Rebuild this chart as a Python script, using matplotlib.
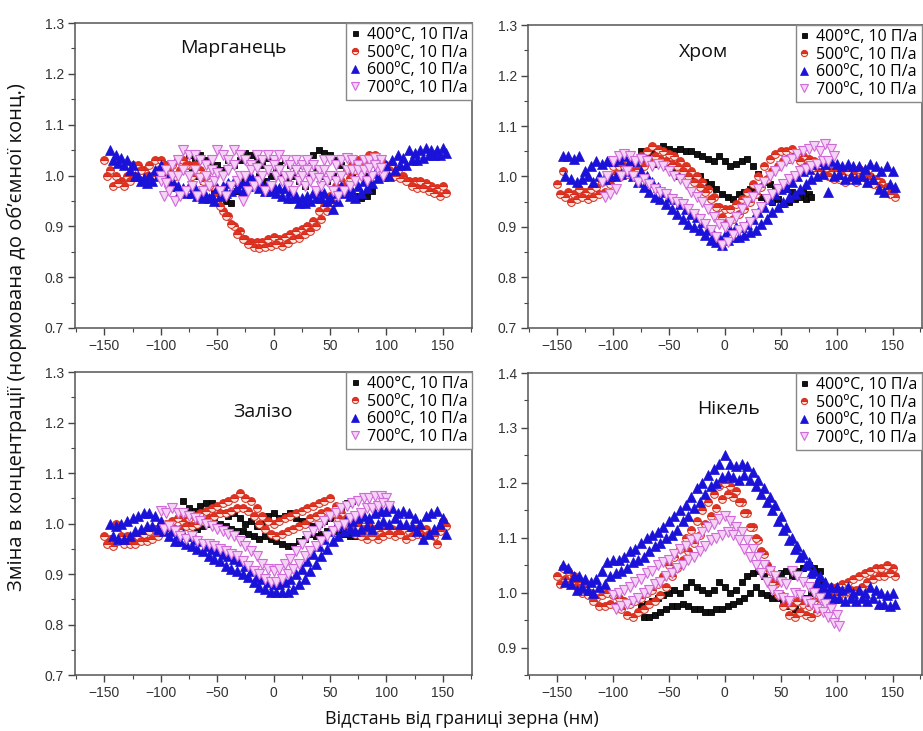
import numpy as np
import matplotlib
matplotlib.use("Agg")
import matplotlib.pyplot as plt
from matplotlib.ticker import MultipleLocator

# ---------------- data ----------------
series_labels = ["400°C, 10 П/а", "500ºC, 10 П/а", "600ºC, 10 П/а", "700ºC, 10 П/а"]
panel_titles = ["Марганець", "Хром", "Залізо", "Нікель"]
x_ticks = [-150, -100, -50, 0, 50, 100, 150]

# sampling ranges (start, stop) in nm for each series, step 5 nm
rng_mn = {"400": (-75, 85), "500": (-150, 150), "600": (-145, 150), "700": (-100, 95)}
rng_cr = {"400": (-75, 75), "500": (-150, 150), "600": (-145, 150), "700": (-110, 95)}
rng_fe = {"400": (-80, 70), "500": (-150, 150), "600": (-145, 150), "700": (-100, 100)}
rng_ni = {"400": (-75, 85), "500": (-150, 150), "600": (-145, 150), "700": (-100, 100)}

# ---- Марганець ----
mn400_a = [1.04, 1.035, 1.04, 1.03, 1.02, 1.02, 1.01, 1.03, 1.02, 1.03, 1.045, 1.04, 1.03, 1.02, 1.035, 1.03, 1.02,
           1.03, 1.02, 1.01, 1.02, 1.03, 1.04, 1.05, 1.045, 1.04, 1.03, 1.02, 1.01, 1.0, 1.01, 1.0, 0.99]
mn400_b = [1.01, 1.0, 0.99, 0.98, 0.97, 0.96, 0.95, 0.945, 0.97, 0.99, 1.0, 0.99, 1.0, 0.99, 1.0, 1.01, 1.0,
           0.99, 1.0, 0.99, 0.98, 1.0, 1.01, 1.0, 0.99, 1.0, 0.99, 0.98, 0.97, 0.96, 0.955, 0.96, 0.97]
mn500_a = [1.03, 1.01, 1.0, 0.99, 1.0, 1.02, 1.02, 1.01, 1.02, 1.03, 1.03, 1.02, 1.02, 1.03, 1.03, 1.02, 1.02,
           1.01, 1.0, 0.98, 0.95, 0.93, 0.92, 0.90, 0.89, 0.875, 0.87, 0.87, 0.87, 0.875, 0.88, 0.875, 0.88,
           0.885, 0.89, 0.895, 0.90, 0.91, 0.93, 0.94, 0.96, 0.98, 0.99, 1.01, 1.02, 1.03, 1.03, 1.04, 1.04,
           1.03, 1.02, 1.02, 1.01, 1.0, 0.99, 0.99, 0.99, 0.985, 0.98, 0.975, 0.98]
mn500_b = [1.0, 0.98, 0.985, 0.98, 0.99, 1.0, 1.01, 1.0, 1.0, 1.01, 1.02, 1.01, 1.0, 1.01, 1.02, 1.0, 1.01,
           0.99, 0.98, 0.96, 0.94, 0.92, 0.905, 0.885, 0.875, 0.865, 0.86, 0.858, 0.86, 0.862, 0.865, 0.862,
           0.868, 0.875, 0.878, 0.885, 0.89, 0.90, 0.915, 0.93, 0.945, 0.965, 0.98, 0.995, 1.01, 1.015, 1.02,
           1.025, 1.03, 1.02, 1.01, 1.0, 0.995, 0.99, 0.98, 0.975, 0.975, 0.97, 0.965, 0.96, 0.965]
mn600_a = [1.05, 1.04, 1.035, 1.03, 1.02, 1.0, 0.995, 1.0, 1.01, 1.02, 1.0, 0.99, 0.98, 0.975, 0.98, 0.975,
           0.965, 0.96, 0.96, 0.975, 0.98, 0.985, 0.99, 0.985, 0.99, 1.0, 0.99, 0.98, 0.985, 0.98, 0.975, 0.975,
           0.97, 0.96, 0.955, 0.96, 0.965, 0.97, 0.965, 0.955, 0.965, 0.98, 0.975, 0.97, 0.98, 0.99, 1.0, 1.005,
           1.01, 1.02, 1.03, 1.04, 1.035, 1.05, 1.045, 1.05, 1.055, 1.05, 1.05, 1.055]
mn600_b = [1.03, 1.025, 1.02, 1.01, 1.0, 0.99, 0.985, 0.99, 1.0, 1.0, 0.99, 0.98, 0.97, 0.965, 0.965, 0.96,
           0.955, 0.955, 0.95, 0.96, 0.965, 0.97, 0.975, 0.97, 0.98, 0.985, 0.975, 0.97, 0.97, 0.965, 0.96,
           0.955, 0.955, 0.945, 0.945, 0.95, 0.955, 0.955, 0.95, 0.935, 0.95, 0.965, 0.96, 0.955, 0.965, 0.975,
           0.985, 0.995, 1.0, 1.0, 1.01, 1.02, 1.02, 1.03, 1.03, 1.035, 1.04, 1.04, 1.04, 1.045]
mn700_a = [1.0, 1.01, 1.02, 1.03, 1.05, 1.04, 1.04, 1.03, 1.02, 1.03, 1.05, 1.04, 1.03, 1.05, 1.04, 1.03, 1.02,
           1.04, 1.03, 1.04, 1.03, 1.04, 1.03, 1.02, 1.03, 1.02, 1.03, 1.02, 1.01, 1.03, 1.03, 1.02, 1.03, 1.035,
           1.03, 1.02, 1.03, 1.03, 1.035, 1.03]
mn700_b = [0.96, 0.97, 0.95, 0.96, 0.97, 0.98, 0.96, 0.97, 0.98, 0.99, 0.97, 0.96, 0.98, 0.99, 0.95, 0.97, 0.98,
           0.99, 0.97, 0.98, 1.0, 0.99, 0.98, 0.97, 0.99, 0.98, 0.99, 0.97, 0.98, 0.99, 0.97, 0.96, 0.97, 0.98,
           0.99, 1.0, 0.99, 1.0, 1.01, 1.0]
mn700_c = [0.99, 0.985, 1.0, 1.0, 1.01, 1.0, 1.01, 0.995, 1.0, 1.01, 1.005, 1.0, 1.01, 1.02, 1.0, 1.0, 1.01,
           1.015, 1.0, 1.01, 1.02, 1.01, 1.0, 1.0, 1.01, 1.0, 1.01, 1.0, 0.995, 1.01, 1.0, 0.99, 1.0, 1.01,
           1.01, 1.01, 1.01, 1.015, 1.02, 1.015]

# ---- Хром ----
cr400_a = [1.05, 1.045, 1.05, 1.055, 1.06, 1.055, 1.05, 1.055, 1.05, 1.05, 1.045, 1.04, 1.035, 1.03, 1.04, 1.03,
           1.02, 1.025, 1.03, 1.035, 1.02, 1.005, 0.99, 0.985, 0.98, 0.975, 0.975, 0.97, 0.965, 0.97, 0.965]
cr400_b = [1.035, 1.03, 1.025, 1.03, 1.02, 1.01, 1.0, 1.01, 1.0, 0.995, 1.0, 0.99, 0.985, 0.975, 0.965, 0.96,
           0.955, 0.965, 0.97, 0.975, 0.97, 0.96, 0.955, 0.95, 0.955, 0.945, 0.95, 0.955, 0.96, 0.955, 0.96]
cr500_a = [0.985, 1.01, 0.97, 0.965, 0.975, 0.97, 0.975, 0.98, 0.99, 1.0, 1.02, 1.02, 1.02, 1.025, 1.03, 1.04,
           1.05, 1.06, 1.055, 1.05, 1.045, 1.04, 1.03, 1.02, 1.01, 1.0, 0.99, 0.975, 0.96, 0.94, 0.935, 0.935,
           0.945, 0.955, 0.97, 0.985, 1.0, 1.02, 1.035, 1.045, 1.05, 1.05, 1.055, 1.045, 1.04, 1.035, 1.03,
           1.02, 1.015, 1.01, 1.01, 1.005, 1.01, 1.005, 1.015, 1.01, 1.0, 0.995, 0.99, 0.98, 0.97]
cr500_b = [0.965, 0.96, 0.95, 0.955, 0.96, 0.955, 0.96, 0.965, 0.97, 0.985, 1.005, 1.0, 1.005, 1.01, 1.015,
           1.02, 1.03, 1.04, 1.035, 1.03, 1.025, 1.02, 1.01, 1.0, 0.99, 0.98, 0.97, 0.955, 0.94, 0.92, 0.91,
           0.915, 0.925, 0.935, 0.95, 0.965, 0.98, 0.995, 1.01, 1.02, 1.03, 1.035, 1.04, 1.03, 1.02, 1.015,
           1.01, 1.005, 1.0, 0.995, 0.995, 0.99, 0.995, 0.99, 1.0, 0.995, 0.985, 0.98, 0.975, 0.965, 0.96]
cr600_a = [1.04, 1.04, 1.035, 1.04, 1.01, 1.02, 1.03, 1.025, 1.03, 1.03, 1.035, 1.04, 1.03, 1.03, 1.01, 1.0,
           0.99, 0.98, 0.97, 0.96, 0.955, 0.945, 0.935, 0.925, 0.92, 0.91, 0.895, 0.885, 0.88, 0.885, 0.895,
           0.9, 0.9, 0.905, 0.915, 0.93, 0.94, 0.955, 0.965, 0.975, 0.98, 0.99, 1.0, 1.01, 1.015, 1.025, 1.03,
           1.025, 1.03, 1.025, 1.02, 1.025, 1.02, 1.02, 1.015, 1.025, 1.02, 1.01, 1.02, 1.01]
cr600_b = [1.0, 0.995, 0.99, 0.995, 1.0, 0.99, 1.0, 0.995, 1.0, 1.0, 1.005, 1.01, 1.0, 0.99, 0.98, 0.97, 0.96,
           0.955, 0.945, 0.935, 0.925, 0.915, 0.905, 0.9, 0.895, 0.885, 0.875, 0.87, 0.865, 0.875, 0.88, 0.88,
           0.885, 0.89, 0.895, 0.905, 0.915, 0.93, 0.94, 0.95, 0.96, 0.965, 0.975, 0.985, 0.995, 1.0, 1.005,
           0.97, 1.0, 1.005, 0.995, 1.0, 0.995, 1.0, 0.99, 0.995, 0.975, 0.97, 0.985, 0.98]
cr700_a = [0.99, 1.0, 1.03, 1.04, 1.045, 1.04, 1.03, 1.035, 1.03, 1.02, 1.025, 1.02, 1.01, 1.0, 0.995, 0.985,
           0.97, 0.96, 0.95, 0.935, 0.92, 0.905, 0.9, 0.91, 0.92, 0.935, 0.95, 0.96, 0.975, 0.99, 1.0, 1.01,
           1.02, 1.03, 1.035, 1.045, 1.05, 1.055, 1.06, 1.05, 1.065, 1.055]
cr700_b = [0.96, 0.965, 0.975, 1.0, 1.01, 1.0, 0.99, 0.995, 0.985, 0.975, 0.97, 0.965, 0.955, 0.95, 0.945,
           0.935, 0.925, 0.915, 0.905, 0.895, 0.88, 0.865, 0.87, 0.885, 0.895, 0.9, 0.91, 0.925, 0.94, 0.955,
           0.965, 0.975, 0.985, 0.995, 1.0, 1.01, 1.015, 1.02, 1.025, 1.03, 1.03, 1.04]

# ---- Залізо ----
fe400_a = [1.045, 1.03, 1.025, 1.035, 1.04, 1.04, 1.035, 1.02, 1.015, 1.02, 1.01, 1.0, 1.005, 0.995, 1.0,
           1.015, 1.02, 1.01, 1.015, 1.02, 1.01, 1.005, 1.0, 0.995, 1.0, 1.005, 1.01, 1.02, 1.03, 1.04, 1.045]
fe400_b = [1.0, 0.995, 0.99, 0.995, 1.0, 1.005, 1.0, 0.995, 0.99, 0.985, 0.985, 0.98, 0.975, 0.97, 0.975,
           0.97, 0.965, 0.96, 0.955, 0.955, 0.965, 0.97, 0.98, 0.975, 0.98, 0.985, 0.99, 0.985, 0.98, 0.975, 0.975]
fe500_a = [0.975, 0.97, 1.0, 0.975, 0.975, 0.97, 0.975, 0.98, 0.985, 0.99, 1.0, 1.0, 1.005, 1.01, 1.005, 1.01,
           1.015, 1.02, 1.025, 1.03, 1.035, 1.04, 1.045, 1.05, 1.06, 1.05, 1.045, 1.03, 1.015, 1.005, 1.0,
           1.005, 1.01, 1.015, 1.02, 1.025, 1.03, 1.035, 1.04, 1.045, 1.05, 1.035, 1.02, 1.01, 1.0, 0.995,
           0.99, 0.995, 0.99, 0.985, 0.99, 0.99, 0.985, 0.99, 0.985, 0.99, 0.985, 0.99, 0.98, 0.96, 1.005]
fe500_b = [0.96, 0.955, 0.965, 0.96, 0.96, 0.96, 0.965, 0.965, 0.97, 0.975, 0.985, 0.985, 0.99, 0.99, 0.995,
           0.995, 1.0, 1.005, 1.01, 1.015, 1.02, 1.02, 1.025, 1.03, 1.03, 1.025, 1.015, 1.0, 0.99, 0.98, 0.975,
           0.98, 0.985, 0.99, 0.995, 1.0, 1.01, 1.015, 1.02, 1.025, 1.02, 1.01, 1.0, 0.99, 0.98, 0.975, 0.97,
           0.975, 0.97, 0.975, 0.98, 0.975, 0.98, 0.97, 0.975, 0.98, 0.975, 0.98, 0.975, 0.985, 0.995]
fe600_a = [1.0, 0.995, 1.0, 1.005, 1.01, 1.015, 1.02, 1.02, 1.015, 1.005, 0.995, 0.985, 0.98, 0.98, 0.975,
           0.97, 0.965, 0.955, 0.95, 0.945, 0.94, 0.935, 0.93, 0.925, 0.915, 0.905, 0.895, 0.89, 0.885, 0.88,
           0.88, 0.885, 0.89, 0.9, 0.91, 0.925, 0.94, 0.955, 0.97, 0.985, 0.995, 1.0, 1.01, 1.005, 1.01, 1.015,
           1.01, 1.02, 1.025, 1.025, 1.03, 1.02, 1.025, 1.02, 1.01, 1.0, 1.015, 1.02, 1.025, 1.01]
fe600_b = [0.975, 0.97, 0.97, 0.975, 0.985, 0.99, 0.995, 0.995, 0.99, 0.985, 0.975, 0.965, 0.965, 0.96, 0.955,
           0.95, 0.945, 0.935, 0.93, 0.925, 0.915, 0.91, 0.905, 0.9, 0.895, 0.885, 0.875, 0.87, 0.865, 0.865,
           0.865, 0.865, 0.87, 0.88, 0.89, 0.905, 0.92, 0.935, 0.95, 0.965, 0.975, 0.985, 0.99, 0.985, 0.99,
           0.995, 0.99, 1.0, 1.005, 1.0, 1.01, 1.0, 1.0, 0.995, 0.985, 0.97, 0.98, 0.99, 1.0, 0.98]
fe700_a = [1.025, 1.02, 1.03, 1.02, 1.02, 1.015, 1.01, 1.005, 1.0, 0.995, 0.99, 0.985, 0.98, 0.975, 0.965,
           0.955, 0.945, 0.935, 0.92, 0.91, 0.905, 0.91, 0.92, 0.93, 0.945, 0.96, 0.975, 0.985, 0.995, 1.005,
           1.015, 1.02, 1.03, 1.035, 1.04, 1.045, 1.05, 1.05, 1.055, 1.055, 1.05]
fe700_b = [0.99, 0.995, 0.985, 0.975, 0.97, 0.975, 0.965, 0.96, 0.96, 0.955, 0.95, 0.945, 0.94, 0.935, 0.925,
           0.915, 0.905, 0.9, 0.89, 0.885, 0.885, 0.89, 0.9, 0.91, 0.92, 0.935, 0.945, 0.955, 0.965, 0.975,
           0.985, 0.995, 1.0, 1.01, 1.015, 1.02, 1.03, 1.03, 1.035, 1.04, 1.035]

# ---- Нікель ----
ni400_a = [0.975, 0.98, 0.985, 0.99, 0.995, 1.0, 1.005, 1.0, 1.01, 1.02, 1.01, 1.005, 1.0, 1.005, 1.02, 1.01,
           1.0, 1.005, 1.02, 1.03, 1.035, 1.04, 1.03, 1.02, 1.03, 1.035, 1.04, 1.03, 1.04, 1.045, 1.05, 1.045, 1.04]
ni400_b = [0.955, 0.955, 0.96, 0.965, 0.97, 0.975, 0.975, 0.98, 0.975, 0.97, 0.97, 0.965, 0.965, 0.97, 0.97,
           0.975, 0.98, 0.985, 0.99, 1.0, 1.01, 1.0, 0.995, 0.99, 0.99, 0.985, 0.975, 0.97, 0.985, 0.99, 1.0,
           1.01, 1.02]
ni500_a = [1.03, 1.045, 1.04, 1.03, 1.02, 1.01, 1.0, 0.99, 0.995, 1.0, 0.995, 0.99, 0.985, 0.98, 0.985, 0.99,
           1.0, 1.005, 1.015, 1.03, 1.05, 1.065, 1.08, 1.1, 1.115, 1.13, 1.15, 1.165, 1.18, 1.195, 1.2, 1.195,
           1.185, 1.165, 1.145, 1.12, 1.095, 1.07, 1.04, 1.015, 0.995, 0.98, 0.975, 0.985, 0.98, 0.975, 0.985,
           1.0, 1.005, 1.01, 1.01, 1.015, 1.02, 1.025, 1.03, 1.035, 1.04, 1.045, 1.045, 1.05, 1.045]
ni500_b = [1.015, 1.025, 1.02, 1.01, 1.0, 0.995, 0.985, 0.975, 0.975, 0.98, 0.975, 0.97, 0.96, 0.955, 0.965,
           0.97, 0.98, 0.985, 0.995, 1.01, 1.03, 1.045, 1.06, 1.075, 1.09, 1.105, 1.125, 1.14, 1.155, 1.17,
           1.18, 1.175, 1.165, 1.145, 1.12, 1.1, 1.075, 1.05, 1.02, 0.995, 0.975, 0.96, 0.955, 0.965, 0.96,
           0.955, 0.965, 0.985, 0.99, 0.995, 0.995, 1.0, 1.005, 1.005, 1.01, 1.02, 1.025, 1.03, 1.03, 1.035, 1.03]
ni600_a = [1.05, 1.045, 1.03, 1.03, 1.025, 1.02, 1.025, 1.04, 1.055, 1.06, 1.06, 1.065, 1.075, 1.08, 1.09, 1.1,
           1.105, 1.11, 1.12, 1.13, 1.14, 1.15, 1.16, 1.175, 1.19, 1.2, 1.215, 1.225, 1.235, 1.25, 1.235, 1.23,
           1.235, 1.23, 1.22, 1.205, 1.19, 1.175, 1.16, 1.14, 1.12, 1.1, 1.085, 1.07, 1.055, 1.04, 1.03, 1.02,
           1.01, 1.01, 1.005, 1.01, 1.0, 1.005, 1.0, 1.01, 1.005, 1.0, 0.995, 1.0]
ni600_b = [1.02, 1.015, 1.005, 1.01, 1.005, 1.0, 1.01, 1.015, 1.03, 1.035, 1.04, 1.045, 1.055, 1.06, 1.065,
           1.075, 1.085, 1.09, 1.1, 1.105, 1.115, 1.13, 1.14, 1.155, 1.165, 1.18, 1.195, 1.2, 1.21, 1.215, 1.21,
           1.205, 1.215, 1.205, 1.195, 1.18, 1.165, 1.15, 1.13, 1.115, 1.095, 1.08, 1.065, 1.05, 1.035, 1.02,
           1.01, 1.0, 0.99, 0.99, 0.985, 0.99, 0.985, 0.99, 0.985, 0.99, 0.98, 0.98, 0.975, 0.98]
ni700_a = [0.995, 1.0, 1.005, 1.01, 1.02, 1.025, 1.035, 1.04, 1.05, 1.055, 1.06, 1.07, 1.08, 1.085, 1.095, 1.1,
           1.11, 1.12, 1.125, 1.135, 1.14, 1.13, 1.12, 1.11, 1.095, 1.08, 1.065, 1.05, 1.04, 1.03, 1.02, 1.015,
           1.04, 1.03, 1.02, 1.01, 1.0, 0.99, 0.98, 0.97, 0.96]
ni700_b = [0.97, 0.975, 0.98, 0.985, 0.99, 1.0, 1.005, 1.015, 1.02, 1.03, 1.035, 1.045, 1.05, 1.06, 1.065, 1.075,
           1.085, 1.095, 1.1, 1.105, 1.11, 1.105, 1.095, 1.08, 1.065, 1.05, 1.035, 1.02, 1.005, 0.995, 0.99,
           0.985, 1.0, 0.995, 0.985, 0.98, 0.97, 0.965, 0.955, 0.945, 0.94]

panel_data = [
    (rng_mn, {"400": [mn400_a, mn400_b], "500": [mn500_a, mn500_b], "600": [mn600_a, mn600_b],
              "700": [mn700_a, mn700_b, mn700_c]}),
    (rng_cr, {"400": [cr400_a, cr400_b], "500": [cr500_a, cr500_b], "600": [cr600_a, cr600_b],
              "700": [cr700_a, cr700_b]}),
    (rng_fe, {"400": [fe400_a, fe400_b], "500": [fe500_a, fe500_b], "600": [fe600_a, fe600_b],
              "700": [fe700_a, fe700_b]}),
    (rng_ni, {"400": [ni400_a, ni400_b], "500": [ni500_a, ni500_b], "600": [ni600_a, ni600_b],
              "700": [ni700_a, ni700_b]}),
]
y_limits = [(0.7, 1.3), (0.7, 1.3), (0.7, 1.3), (0.85, 1.4)]

# ---------------- styling ----------------
styles = {
    "400": dict(marker="s", ms=4.5, mfc="#111111", mec="#000000", mew=0.6),
    "500": dict(marker="o", ms=5.6, fillstyle="top", mfc="#e5321f", markerfacecoloralt="#fde2da",
                mec="#d42a1c", mew=0.7),
    "600": dict(marker="^", ms=6.5, mfc="#1a12d8", mec="#1a12d8", mew=0.5),
    "700": dict(marker="v", ms=6.5, mfc="#f6d2f6", mec="#cf6ad9", mew=0.8),
}
order = ["400", "500", "600", "700"]

fig = plt.figure(figsize=(9.23, 7.31), dpi=100)
positions = [
    [0.0813, 0.5513, 0.4301, 0.4172],
    [0.5720, 0.5513, 0.4265, 0.4145],
    [0.0813, 0.0766, 0.4301, 0.4145],
    [0.5720, 0.0766, 0.4265, 0.4131],
]
title_pos = [(0.398, 0.918), (0.447, 0.911), (0.474, 0.868), (0.510, 0.881)]
tick_font = "Liberation Sans"
text_font = ["Open Sans", "DejaVu Sans"]

for i, (pos, (rngs, dat)) in enumerate(zip(positions, panel_data)):
    ax = fig.add_axes(pos)
    handles = []
    for key, lab in zip(order, series_labels):
        start, stop = rngs[key]
        xa = np.arange(start, stop + 1, 5)
        xb = xa + 2.5
        for j, prof in enumerate(dat[key]):
            xx = xa if j % 2 == 0 else xb
            h, = ax.plot(xx[:len(prof)], prof, linestyle="none", **styles[key])
        h.set_label(lab)
        handles.append(h)
    ax.set_xlim(-176, 176)
    ax.set_ylim(*y_limits[i])
    ax.set_xticks(x_ticks)
    ax.xaxis.set_minor_locator(MultipleLocator(25))
    ax.yaxis.set_major_locator(MultipleLocator(0.1))
    ax.yaxis.set_minor_locator(MultipleLocator(0.05))
    ax.yaxis.set_major_formatter(matplotlib.ticker.FormatStrFormatter("%.1f"))
    ax.tick_params(which="major", direction="out", length=5, width=1, color="#444444",
                   labelsize=10, labelcolor="#333333", pad=3)
    ax.tick_params(which="minor", direction="out", length=3, width=0.8, color="#444444")
    for lbl in ax.get_xticklabels() + ax.get_yticklabels():
        lbl.set_fontfamily(tick_font)
    for sp in ax.spines.values():
        sp.set_color("#555555")
        sp.set_linewidth(1.1)
    ax.text(title_pos[i][0], title_pos[i][1], panel_titles[i], transform=ax.transAxes,
            ha="center", va="center", fontsize=14, family=text_font, color="#111111")
    leg = ax.legend(handles=handles, loc="upper right", bbox_to_anchor=(1.0, 1.0), borderaxespad=0,
                    fancybox=False, frameon=True, edgecolor="#888888", framealpha=1,
                    prop={"family": text_font, "size": 11.5}, handlelength=0.6, handletextpad=0.45,
                    borderpad=0.25, labelspacing=0.1, markerscale=0.8)
    leg.get_frame().set_linewidth(1.0)

fig.text(0.5, 0.016, "Відстань від границі зерна (нм)", ha="center", va="center",
         fontsize=13, family=text_font, color="#111111")
fig.text(0.018, 0.539, "Зміна в концентрації (нормована до об’ємної конц.)", ha="center", va="center",
         rotation=90, fontsize=14.5, family=text_font, color="#111111")

fig.savefig("out.png", dpi=100)
